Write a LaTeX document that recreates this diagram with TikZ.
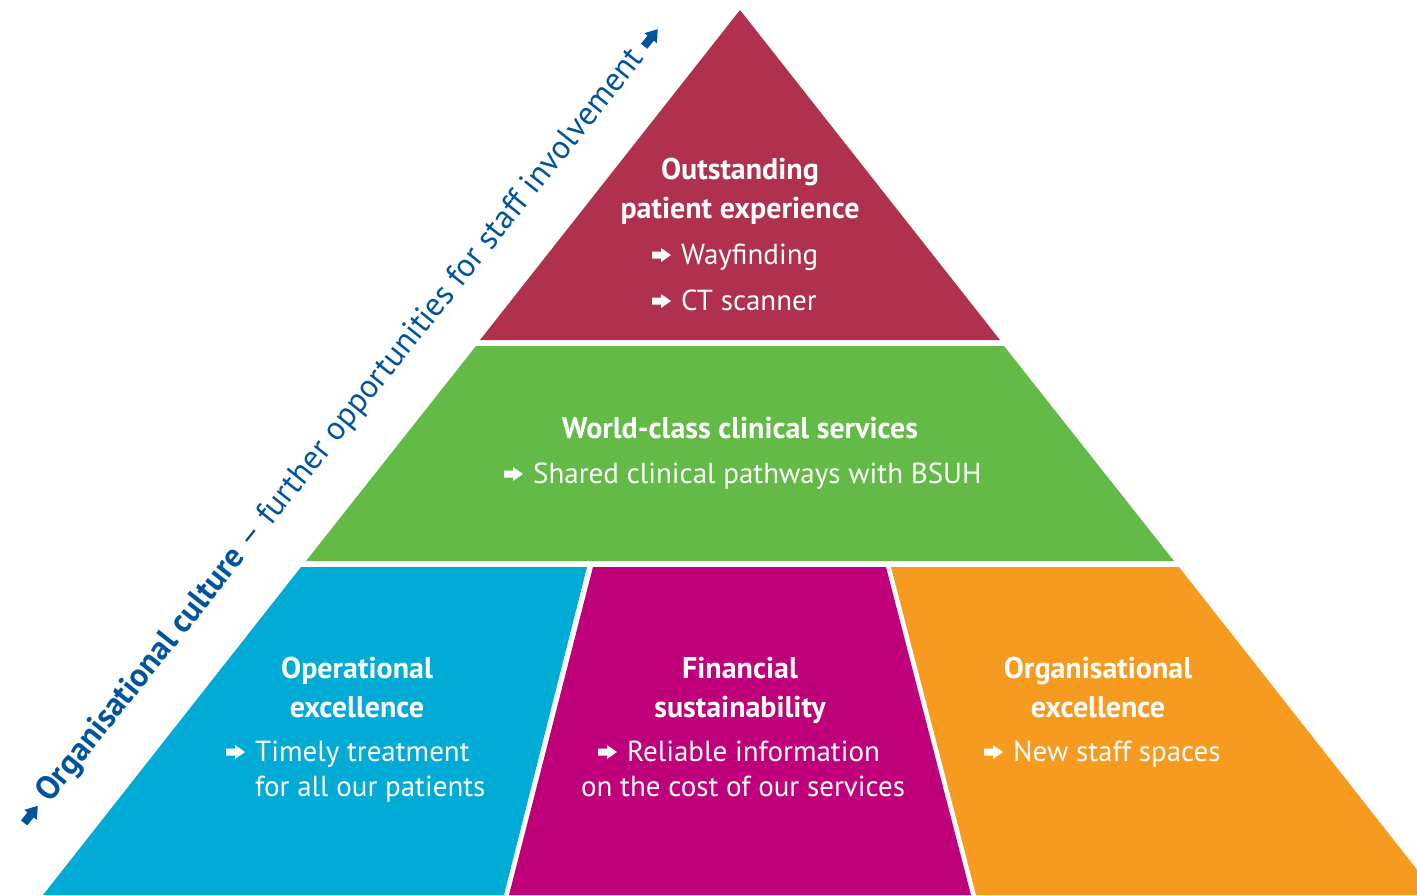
\documentclass[tikz,border=0pt]{standalone}
\usepackage{fontspec}
\setmainfont{PT Sans}
\usetikzlibrary{positioning, calc}
\definecolor{toprose}{RGB}{176,49,77}
\definecolor{midgreen}{RGB}{99,186,71}
\definecolor{opblue}{RGB}{0,172,214}
\definecolor{finmagenta}{RGB}{191,0,122}
\definecolor{orgorange}{RGB}{247,154,32}
\definecolor{cultureblue}{RGB}{0,84,157}
\tikzset{
  tierhead/.style={text=white, align=center, inner sep=0pt,
    font=\fontsize{30}{39}\selectfont\bfseries},
  tieritem/.style={text=white, inner sep=0pt, anchor=base west,
    font=\fontsize{29}{35}\selectfont},
  % block arrow in front of every item
  pointer/.pic={\fill (0,-3.5) -- (9,-3.5) -- (9,-7) -- (19,0) -- (9,7)
    -- (9,3.5) -- (0,3.5) -- cycle;},
}
\newcommand{\itemarrow}[1]{\pic[white] at ([xshift=-29pt,yshift=9pt]#1.base west) {pointer};}
\begin{document}
\begin{tikzpicture}[x=1pt,y=-1pt]
  \useasboundingbox (0,0) rectangle (1417,895);
  \clip (0,0) rectangle (1417,895);
  % pyramid tiers
  \fill[toprose] (740,10) -- (1000,340) -- (480,340) -- cycle;
  \fill[midgreen] (476,346) -- (1004,346) -- (1174,561) -- (306,561) -- cycle;
  \fill[opblue] (301,567) -- (587,567) -- (504,895) -- (43,895) -- cycle;
  \fill[finmagenta] (593,567) -- (886,567) -- (971,895) -- (509,895) -- cycle;
  \fill[orgorange] (891,567) -- (1179,567) -- (1437,895) -- (976,895) -- cycle;
  % top
  \node[tierhead] (outstanding) at (740,191) {Outstanding\\patient experience};
  \node[tieritem] (wayfinding) at (681,264) {Wayfinding};
  \node[tieritem] (ctscanner) at (681,310) {CT scanner};
  \itemarrow{wayfinding}
  \itemarrow{ctscanner}
  % middle
  \node[tierhead] (worldclass) at (740,428) {World-class clinical services};
  \node[tieritem] (pathways) at (533,483) {Shared clinical pathways with BSUH};
  \itemarrow{pathways}
  % bottom row
  \node[tierhead] (operational) at (357,687) {Operational\\excellence};
  \node[tieritem] (timely) at (255,761) {Timely treatment};
  \node[tieritem] (timelycont) at (255,796) {for all our patients};
  \itemarrow{timely}
  \node[tierhead] (financial) at (740,690) {Financial\\sustainability};
  \node[tieritem] (reliable) at (627,761) {Reliable information};
  \node[tieritem, anchor=base] (reliablecont) at (743,796) {on the cost of our services};
  \itemarrow{reliable}
  \node[tierhead] (organisational) at (1098,687) {Organisational\\excellence};
  \node[tieritem] (spaces) at (1013,761) {New staff spaces};
  \itemarrow{spaces}
  % culture label along the left side
  \node[rotate=51.4, text=cultureblue, inner sep=0pt,
    font=\fontsize{33}{33}\selectfont] (culture) at (341,426)
    {\textbf{Organisational culture} -- further opportunities for staff involvement};
  \pic[cultureblue, rotate=51.4, scale=1.15] at ($(culture.west)!-31pt!(culture.east)$) {pointer};
  \pic[cultureblue, rotate=51.4, scale=1.15] at ($(culture.east)!-9pt!(culture.west)$) {pointer};
\end{tikzpicture}
\end{document}
